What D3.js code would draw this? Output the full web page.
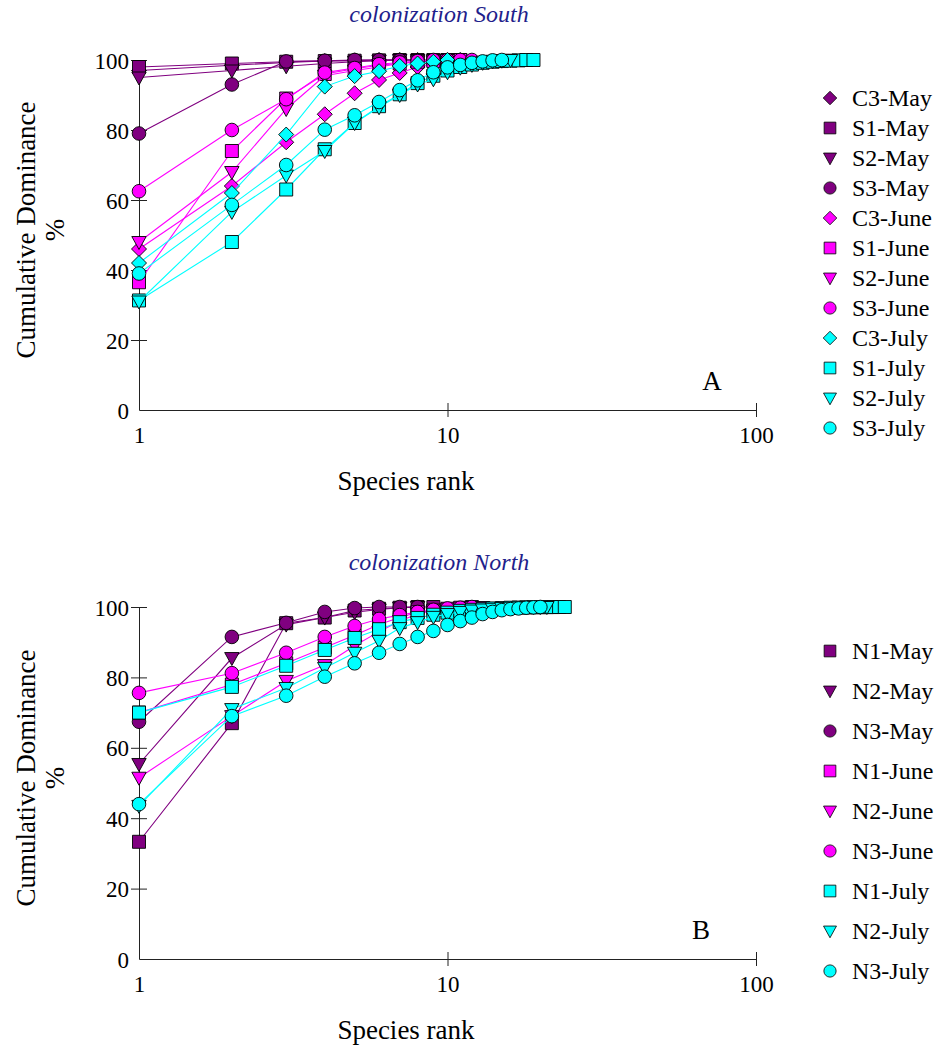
<!DOCTYPE html>
<html>
<head>
<meta charset="utf-8">
<script src="https://cdn.jsdelivr.net/npm/d3@7"></script>
<style>
  body { margin: 0; background: #fff; }
  svg { display: block; font-family: "Liberation Serif", "Times New Roman", serif; }
</style>
</head>
<body>
<div id="chart"></div>
<script>
// Cumulative dominance (%) by species rank, one array per sample (rank 1..n)

// --- colonization South ---
const southNames = ["C3-May", "S1-May", "S2-May", "S3-May",
  "C3-June", "S1-June", "S2-June", "S3-June",
  "C3-July", "S1-July", "S2-July", "S3-July"];

const c3May  = [97, 98.5, 99.3, 99.7, 99.9, 100, 100, 100];
const s1May  = [98, 99, 99.5, 99.7, 99.8, 99.9, 100, 100, 100, 100, 100];
const s2May  = [95, 97, 98.2, 99, 99.5, 99.8, 100, 100];
const s3May  = [79, 93, 99.6, 99.8, 100, 100, 100];
const c3June = [46, 64, 76.5, 84.5, 90.5, 94.3, 96.3, 98, 99, 99.5, 100];
const s1June = [36.5, 74, 89, 96, 97.5, 98.5, 99, 99.5, 99.7, 100, 100];
const s2June = [48, 68, 86, 95.5, 97, 98, 99, 99.5, 99.8, 100];
const s3June = [62.5, 80, 88.8, 96.4, 97.7, 98.8, 99.3, 99.7, 100, 100, 100, 100];
const c3July = [42, 62, 78.7, 92.4, 95.4, 96.8, 98.3, 99, 99.5, 100];
const s1July = [31.3, 48, 63, 74.5, 82, 86.8, 90.2, 93.4, 95.5, 97, 98, 98.7, 99.2, 99.5, 99.7, 99.8, 99.9, 100, 100];
const s2July = [31, 56.6, 67, 74, 82, 86.5, 90, 93, 94.5, 96.5, 97.8, 98.6, 99.2, 99.6, 99.8, 100];
const s3July = [39, 58.6, 70, 80.1, 84.2, 88, 91.4, 94.2, 96.5, 97.9, 98.6, 99.2, 99.6, 99.9, 100];

const southValues = [c3May, s1May, s2May, s3May, c3June, s1June, s2June, s3June,
  c3July, s1July, s2July, s3July];

// --- colonization North ---
const northNames = ["N1-May", "N2-May", "N3-May",
  "N1-June", "N2-June", "N3-June",
  "N1-July", "N2-July", "N3-July"];

const n1May  = [33.3, 67, 95.4, 97, 99, 99.5, 99.8, 100, 100];
const n2May  = [55.4, 85.5, 95, 97, 98.5, 99.3, 99.8, 100];
const n3May  = [67.4, 91.5, 95.5, 98.6, 99.7, 100, 100, 100];
const n1June = [70, 78, 84, 88.5, 92, 95, 97, 98.5, 99, 99.5, 99.8, 100];
const n2June = [51.5, 69, 79, 83.5, 89, 93, 96, 98, 99, 99.5, 99.8, 100, 100];
const n3June = [75.6, 81.2, 87, 91.5, 94.6, 96.6, 97.7, 98.6, 99.2, 99.6, 99.8, 100];
const n1July = [70, 77.3, 83.3, 87.8, 91.2, 93.7, 95.7, 96.9, 97.8, 98.4, 98.9, 99.2,
  99.4, 99.6, 99.7, 99.8, 99.85, 99.9, 99.93, 99.95, 99.97, 99.98, 100, 100];
const n2July = [43.5, 71, 77, 82.7, 87, 90.4, 94, 95.7, 97.2, 98, 98.6, 99, 99.3,
  99.5, 99.7, 99.8, 99.9, 99.95, 100, 100, 100];
const n3July = [44, 69, 74.8, 80.2, 84, 87, 89.5, 91.5, 93.2, 94.9, 96, 97, 98,
  98.6, 99.1, 99.4, 99.6, 99.8, 99.9, 100];

const northValues = [n1May, n2May, n3May, n1June, n2June, n3June, n1July, n2July, n3July];

const yTicks = [0, 20, 40, 60, 80, 100];
const xTicks = [1, 10, 100];

// styling
const monthColor = { May: "#800080", June: "#ff00ff", July: "#00ffff" };

function shapeOf(name) {
  const site = name.split("-")[0];
  if (site.startsWith("C")) return "diamond";
  if (site.endsWith("1")) return "square";
  if (site.endsWith("2")) return "triangle";
  return "circle";
}

function markerPath(shape) {
  if (shape === "square") return "M-6.5,-6.5H6.5V6.5H-6.5Z";
  if (shape === "diamond") return "M0,-7.5L7.5,0L0,7.5L-7.5,0Z";
  if (shape === "triangle") return "M-7.2,-5.5H7.2L0,7.5Z";
  return d3.symbol(d3.symbolCircle, Math.PI * 6.8 * 6.8)();
}

const width = 941, height = 1050;

const svg = d3.select("#chart")
  .append("svg")
  .attr("width", width)
  .attr("height", height);

function drawPanel(cfg) {
  const x = d3.scaleLog().domain([1, 100]).range([139, 756]);
  const y = d3.scaleLinear().domain([0, 100]).range([cfg.y0, cfg.y100]);
  const g = svg.append("g");

  // y axis, ticks cross the line
  const yAxis = g.append("g")
    .attr("transform", "translate(139,0)")
    .call(d3.axisLeft(y).tickValues(yTicks).tickSize(8).tickSizeOuter(0).tickPadding(0));
  yAxis.selectAll(".tick line")
    .attr("x1", d => d === 0 ? 0 : 8)
    .attr("x2", d => d === 0 ? 0 : -8);
  yAxis.selectAll(".tick text")
    .attr("x", -10).attr("dy", "0.35em")
    .style("font-size", "23px").style("font-family", "Liberation Serif");

  const xAxis = g.append("g")
    .attr("transform", `translate(0,${cfg.y0})`)
    .call(d3.axisBottom(x).tickValues(xTicks).tickFormat(d3.format("d")).tickSizeOuter(0));
  xAxis.selectAll(".tick line")
    .attr("y1", d => d === 1 ? 0 : -7)
    .attr("y2", d => d === 1 ? 0 : 7);
  xAxis.selectAll(".tick text")
    .attr("y", 33).attr("dy", null)
    .style("font-size", "23px").style("font-family", "Liberation Serif");

  g.selectAll(".domain, .tick line").attr("stroke", "#222");

  const line = d3.line()
    .x((d, i) => x(i + 1))
    .y(d => y(d));

  cfg.names.forEach((name, k) => {
    const vals = cfg.values[k];
    const color = monthColor[name.split("-")[1]];
    const s = g.append("g");
    s.append("path")
      .attr("d", line(vals))
      .attr("fill", "none")
      .attr("stroke", color)
      .attr("stroke-width", 1.1);
    s.selectAll("path.pt")
      .data(vals)
      .join("path")
      .attr("class", "pt")
      .attr("transform", (d, i) => `translate(${x(i + 1)},${y(d)})`)
      .attr("d", markerPath(shapeOf(name)))
      .attr("fill", color)
      .attr("stroke", "#000")
      .attr("stroke-width", 0.9);
  });

  // legend
  const leg = g.append("g")
    .selectAll("g")
    .data(cfg.names)
    .join("g")
    .attr("transform", (d, i) => `translate(830,${cfg.legTop + i * cfg.legStep})`);
  leg.append("path")
    .attr("d", d => markerPath(shapeOf(d)))
    .attr("transform", "scale(0.9)")
    .attr("fill", d => monthColor[d.split("-")[1]])
    .attr("stroke", "#000")
    .attr("stroke-width", 0.9);
  leg.append("text")
    .attr("x", 22)
    .attr("dy", "0.35em")
    .style("font-size", "24px")
    .text(d => d);

  // titles and labels
  g.append("text")
    .attr("x", 439).attr("y", cfg.titleY)
    .attr("text-anchor", "middle")
    .style("font-size", "24px").style("font-style", "italic")
    .attr("fill", "#1f1f8c")
    .text(cfg.title);

  const midY = (cfg.y0 + cfg.y100) / 2 - 5;
  g.append("text")
    .attr("transform", `translate(35,${midY}) rotate(-90)`)
    .attr("text-anchor", "middle")
    .style("font-size", "27px")
    .text("Cumulative Dominance");
  g.append("text")
    .attr("transform", `translate(64,${midY}) rotate(-90)`)
    .attr("text-anchor", "middle")
    .style("font-size", "27px")
    .text("%");

  g.append("text")
    .attr("x", 406).attr("y", cfg.y0 + 80)
    .attr("text-anchor", "middle")
    .style("font-size", "27px")
    .text("Species rank");

  g.append("text")
    .attr("x", cfg.letterX).attr("y", cfg.y0 - 20)
    .attr("text-anchor", "middle")
    .style("font-size", "27px")
    .text(cfg.letter);
}

drawPanel({
  names: southNames, values: southValues, title: "colonization South",
  y0: 410, y100: 60, titleY: 22, legTop: 98, legStep: 30, letter: "A", letterX: 712
});

drawPanel({
  names: northNames, values: northValues, title: "colonization North",
  y0: 959, y100: 607, titleY: 570, legTop: 651, legStep: 40, letter: "B", letterX: 701
});
</script>
</body>
</html>
